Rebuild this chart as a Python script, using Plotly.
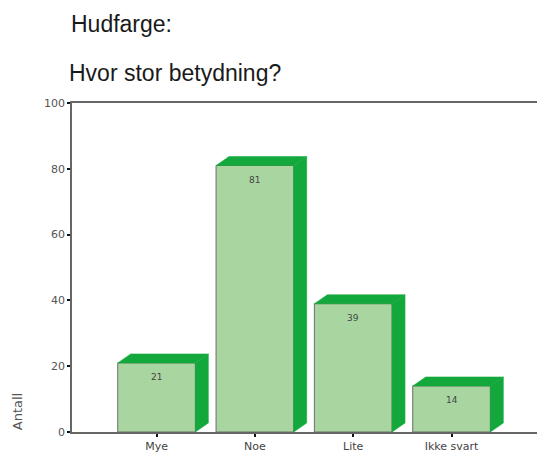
import plotly.graph_objects as go

categories = ["Mye", "Noe", "Lite", "Ikke svart"]
values = [21, 81, 39, 14]
y_ticks = [0, 20, 40, 60, 80, 100]

# The page body adds an 8px offset, so positions below are compensated.
W, H = 545, 458
L, R, T, B = 64, 8, 95, 34
plot_h = H - T - B
plot_w = W - L - R

front_color = "#a9d6a0"
dark_color = "#13a83b"
bar_w = 0.79
dx = 0.132
dy = 2.74

xs = list(range(len(categories)))

fig = go.Figure()
fig.add_trace(go.Bar(
    x=xs, y=values, width=bar_w,
    marker=dict(color=front_color, line=dict(color="#6e6e6e", width=1)),
    hoverinfo="skip",
))

for x, v in zip(xs, values):
    xr = x + bar_w / 2
    xl = x - bar_w / 2
    fig.add_trace(go.Scatter(
        x=[xr, xr + dx, xr + dx, xr, xr],
        y=[0, dy, v + dy, v, 0],
        fill="toself", fillcolor=dark_color, mode="lines",
        line=dict(color=dark_color, width=0.5), hoverinfo="skip",
    ))
    fig.add_trace(go.Scatter(
        x=[xl, xl + dx, xr + dx, xr, xl],
        y=[v, v + dy, v + dy, v, v],
        fill="toself", fillcolor=dark_color, mode="lines",
        line=dict(color=dark_color, width=0.5), hoverinfo="skip",
    ))

annotations = []
for x, v in zip(xs, values):
    annotations.append(dict(
        x=x, y=v, xref="x", yref="y", text=str(v), showarrow=False,
        yshift=-14, font=dict(size=9, color="#444444", family="DejaVu Sans"),
    ))

def py(p):
    return (H - B - p) / plot_h

def px(p):
    return (p - L) / plot_w

annotations.append(dict(
    x=px(61), y=py(16), xref="paper", yref="paper",
    text="Hudfarge:", showarrow=False, xanchor="left", yanchor="middle",
    font=dict(size=23, color="#1a1a1a", family="Liberation Sans, Arial"),
))
annotations.append(dict(
    x=px(59), y=py(65), xref="paper", yref="paper",
    text="Hvor stor betydning?", showarrow=False, xanchor="left", yanchor="middle",
    font=dict(size=23, color="#1a1a1a", family="Liberation Sans, Arial"),
))
annotations.append(dict(
    x=px(9), y=py(404), xref="paper", yref="paper",
    text="Antall", showarrow=False, textangle=-90, xanchor="center", yanchor="middle",
    font=dict(size=13, color="#555555", family="DejaVu Sans"),
))

fig.update_layout(
    width=W, height=H,
    margin=dict(l=L, r=R, t=T, b=B),
    paper_bgcolor="white", plot_bgcolor="white",
    showlegend=False,
    annotations=annotations,
    xaxis=dict(
        range=[-0.86, 3.93], tickmode="array", tickvals=xs, ticktext=categories,
        showline=True, linecolor="#666666", linewidth=1.5, mirror=True,
        ticks="outside", ticklen=3, tickwidth=2, tickcolor="#111111",
        showgrid=False, zeroline=False,
        tickfont=dict(size=11, color="#444444", family="DejaVu Sans"),
    ),
    yaxis=dict(
        range=[0, 100], tickmode="array", tickvals=y_ticks,
        showline=True, linecolor="#666666", linewidth=1.5, mirror=True,
        ticks="outside", ticklen=3, tickwidth=2, tickcolor="#111111",
        showgrid=False, zeroline=False,
        tickfont=dict(size=11, color="#555555", family="DejaVu Sans"),
    ),
)

fig.write_html("out.html")
